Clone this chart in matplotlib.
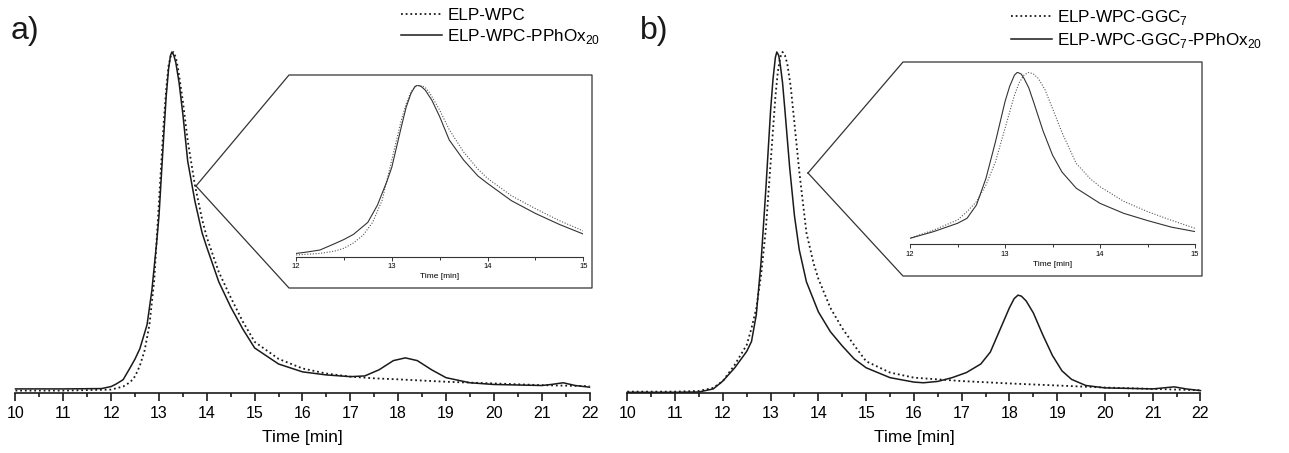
import matplotlib
matplotlib.use("Agg")
import matplotlib.pyplot as plt
from matplotlib.lines import Line2D
from matplotlib.ticker import MultipleLocator

plt.rcParams['font.family'] = ['Liberation Sans', 'DejaVu Sans']
plt.rcParams['mathtext.fontset'] = 'custom'
plt.rcParams['mathtext.rm'] = 'Liberation Sans'

# ---------------- data (normalised detector signal vs. elution time) -------------
# Panel a
t_a_dot = [10, 11, 12, 12.25, 12.4, 12.5, 12.6, 12.7, 12.8, 12.9, 13.0, 13.1, 13.15, 13.2,
           13.25, 13.3, 13.35, 13.4, 13.5, 13.6, 13.75, 13.9, 14.0, 14.25, 14.5, 14.75,
           15.0, 15.5, 16, 16.5, 17, 17.5, 18, 19, 20, 21, 22]
v_a_dot = [0.007, 0.007, 0.010, 0.019, 0.032, 0.049, 0.080, 0.125, 0.200, 0.330, 0.563,
           0.796, 0.890, 0.960, 0.990, 1.000, 0.985, 0.950, 0.854, 0.740, 0.610, 0.510,
           0.456, 0.355, 0.280, 0.210, 0.150, 0.100, 0.072, 0.057, 0.048, 0.043, 0.040,
           0.033, 0.028, 0.023, 0.020]

t_a_sol = [10, 11, 11.8, 12.0, 12.1, 12.25, 12.4, 12.5, 12.6, 12.75, 12.85, 12.95, 13.0,
           13.1, 13.15, 13.2, 13.24, 13.27, 13.31, 13.35, 13.42, 13.5, 13.6, 13.75, 13.9,
           14.0, 14.25, 14.5, 14.75, 15.0, 15.5, 16, 16.5, 17, 17.3, 17.6, 17.9, 18.15,
           18.4, 18.7, 19.0, 19.5, 20, 21, 21.2, 21.45, 21.7, 22]
v_a_sol = [0.012, 0.012, 0.013, 0.019, 0.026, 0.039, 0.075, 0.100, 0.130, 0.200, 0.300,
           0.440, 0.520, 0.757, 0.870, 0.950, 0.990, 1.000, 0.990, 0.970, 0.910, 0.816,
           0.680, 0.563, 0.470, 0.427, 0.326, 0.252, 0.188, 0.132, 0.085, 0.062, 0.053,
           0.048, 0.050, 0.068, 0.095, 0.103, 0.095, 0.068, 0.045, 0.030, 0.025, 0.022,
           0.025, 0.030, 0.022, 0.017]

# Panel b
t_b_dot = [10, 11, 11.5, 11.8, 12.0, 12.25, 12.5, 12.6, 12.7, 12.8, 12.9, 13.0, 13.1, 13.15,
           13.2, 13.25, 13.3, 13.35, 13.42, 13.5, 13.6, 13.75, 13.9, 14.0, 14.25, 14.5,
           14.75, 15.0, 15.5, 16, 17, 18, 19, 20, 21, 22]
v_b_dot = [0.004, 0.004, 0.006, 0.015, 0.035, 0.083, 0.141, 0.190, 0.248, 0.345, 0.480,
           0.674, 0.868, 0.940, 0.984, 1.000, 0.990, 0.965, 0.900, 0.790, 0.650, 0.470,
           0.380, 0.335, 0.250, 0.190, 0.140, 0.093, 0.060, 0.045, 0.035, 0.028, 0.022,
           0.016, 0.012, 0.008]

t_b_sol = [10, 11, 11.5, 11.8, 12.0, 12.25, 12.5, 12.6, 12.7, 12.8, 12.9, 13.0, 13.05,
           13.1, 13.13, 13.17, 13.2, 13.25, 13.3, 13.4, 13.5, 13.6, 13.75, 14.0, 14.25,
           14.5, 14.75, 15.0, 15.5, 16, 16.2, 16.5, 16.8, 17.1, 17.4, 17.6, 17.8, 18.0,
           18.1, 18.18, 18.25, 18.35, 18.5, 18.7, 18.9, 19.1, 19.3, 19.6, 20, 21, 21.45,
           21.7, 22]
v_b_sol = [0.002, 0.002, 0.003, 0.012, 0.035, 0.074, 0.122, 0.151, 0.229, 0.384, 0.597,
           0.829, 0.920, 0.984, 1.000, 0.990, 0.965, 0.910, 0.829, 0.660, 0.519, 0.420,
           0.326, 0.238, 0.180, 0.138, 0.100, 0.074, 0.045, 0.032, 0.030, 0.034, 0.045,
           0.060, 0.085, 0.120, 0.185, 0.250, 0.277, 0.287, 0.284, 0.270, 0.235, 0.170,
           0.110, 0.065, 0.040, 0.022, 0.015, 0.012, 0.018, 0.012, 0.007]

labels_a = ["ELP-WPC", r"ELP-WPC-PPhOx$_{\mathregular{20}}$"]
labels_b = [r"ELP-WPC-GGC$_{\mathregular{7}}$",
            r"ELP-WPC-GGC$_{\mathregular{7}}$-PPhOx$_{\mathregular{20}}$"]
main_ticks = list(range(10, 23))
inset_ticks = [12, 13, 14, 15]
xlabel = "Time [min]"

# ---------------- layout ----------------
W, H = 1289, 453
fig = plt.figure(figsize=(W / 100, H / 100), dpi=100)


def fx(px):
    return px / W


def fy(py):
    return 1 - py / H


DOT = (0, (1.0, 1.6))
LC = '#1a1a1a'


def style_main(ax):
    ax.set_xlim(10, 22)
    ax.set_ylim(0, 1)
    for s in ('top', 'left', 'right'):
        ax.spines[s].set_visible(False)
    ax.spines['bottom'].set_linewidth(1.2)
    ax.spines['bottom'].set_color(LC)
    ax.set_yticks([])
    ax.set_xticks(main_ticks)
    ax.xaxis.set_minor_locator(MultipleLocator(0.5))
    ax.tick_params(axis='x', which='major', direction='out', length=6, width=1.2,
                   labelsize=11.5, pad=3, color=LC)
    ax.tick_params(axis='x', which='minor', direction='out', length=3, width=1.2, color=LC)
    ax.set_xlabel(xlabel, fontsize=12.5, labelpad=7)
    ax.patch.set_alpha(0)


def style_inset(ax):
    ax.set_xlim(12, 15)
    ax.set_ylim(0, 1)
    for s in ('top', 'left', 'right'):
        ax.spines[s].set_visible(False)
    ax.spines['bottom'].set_linewidth(0.8)
    ax.spines['bottom'].set_color('#333333')
    ax.set_yticks([])
    ax.set_xticks(inset_ticks)
    ax.xaxis.set_minor_locator(MultipleLocator(0.5))
    ax.tick_params(axis='x', which='major', direction='out', length=3, width=0.7,
                   labelsize=5.5, pad=1.5, color='#333333')
    ax.tick_params(axis='x', which='minor', direction='out', length=2, width=0.7,
                   color='#333333')
    ax.set_xlabel(xlabel, fontsize=6, labelpad=2.5)
    ax.patch.set_alpha(0)


# main axes
axA = fig.add_axes([fx(15.5), fy(393), (589.5 - 15.5) / W, 341 / H])
axB = fig.add_axes([fx(627.3), fy(393), (1200.5 - 627.3) / W, 341 / H])
style_main(axA)
style_main(axB)

la1, = axA.plot(t_a_dot, v_a_dot, ls=DOT, color=LC, lw=1.3, clip_on=False)
la2, = axA.plot(t_a_sol, v_a_sol, ls='-', color=LC, lw=1.1, clip_on=False)
lb1, = axB.plot(t_b_dot, v_b_dot, ls=DOT, color=LC, lw=1.3, clip_on=False)
lb2, = axB.plot(t_b_sol, v_b_sol, ls='-', color=LC, lw=1.1, clip_on=False)


# callout frames
def callout(pts):
    xs = [fx(p[0]) for p in pts] + [fx(pts[0][0])]
    ys = [fy(p[1]) for p in pts] + [fy(pts[0][1])]
    fig.add_artist(Line2D(xs, ys, transform=fig.transFigure, color='#333333', lw=0.9))


callout([(196, 186), (289, 75), (592, 75), (592, 288), (289, 288)])
callout([(808, 173), (903, 62), (1202, 62), (1202, 276), (903, 276)])

# insets
axIA = fig.add_axes([fx(296), fy(256.7), 287.3 / W, (256.7 - 85) / H])
axIB = fig.add_axes([fx(910), fy(244.3), 285 / W, (244.3 - 72.3) / H])
style_inset(axIA)
style_inset(axIB)
axIA.plot(t_a_dot, v_a_dot, ls=(0, (1, 1.5)), color='#555555', lw=0.8)
axIA.plot(t_a_sol, v_a_sol, ls='-', color='#333333', lw=0.8)
axIB.plot(t_b_dot, v_b_dot, ls=(0, (1, 1.5)), color='#555555', lw=0.8)
axIB.plot(t_b_sol, v_b_sol, ls='-', color='#333333', lw=0.8)

# legends
fig.legend([la1, la2], labels_a, loc='upper left', bbox_to_anchor=(fx(401), fy(8)),
           frameon=False, fontsize=12.3, handlelength=2.4, handletextpad=0.3,
           labelspacing=0.25, borderpad=0, borderaxespad=0)
fig.legend([lb1, lb2], labels_b, loc='upper left', bbox_to_anchor=(fx(1011), fy(8)),
           frameon=False, fontsize=12.3, handlelength=2.4, handletextpad=0.3,
           labelspacing=0.25, borderpad=0, borderaxespad=0)

# panel labels
fig.text(fx(11), fy(31), "a)", fontsize=23, va='center', ha='left', color=LC)
fig.text(fx(640), fy(31), "b)", fontsize=23, va='center', ha='left', color=LC)

fig.savefig("out.png", dpi=100)
